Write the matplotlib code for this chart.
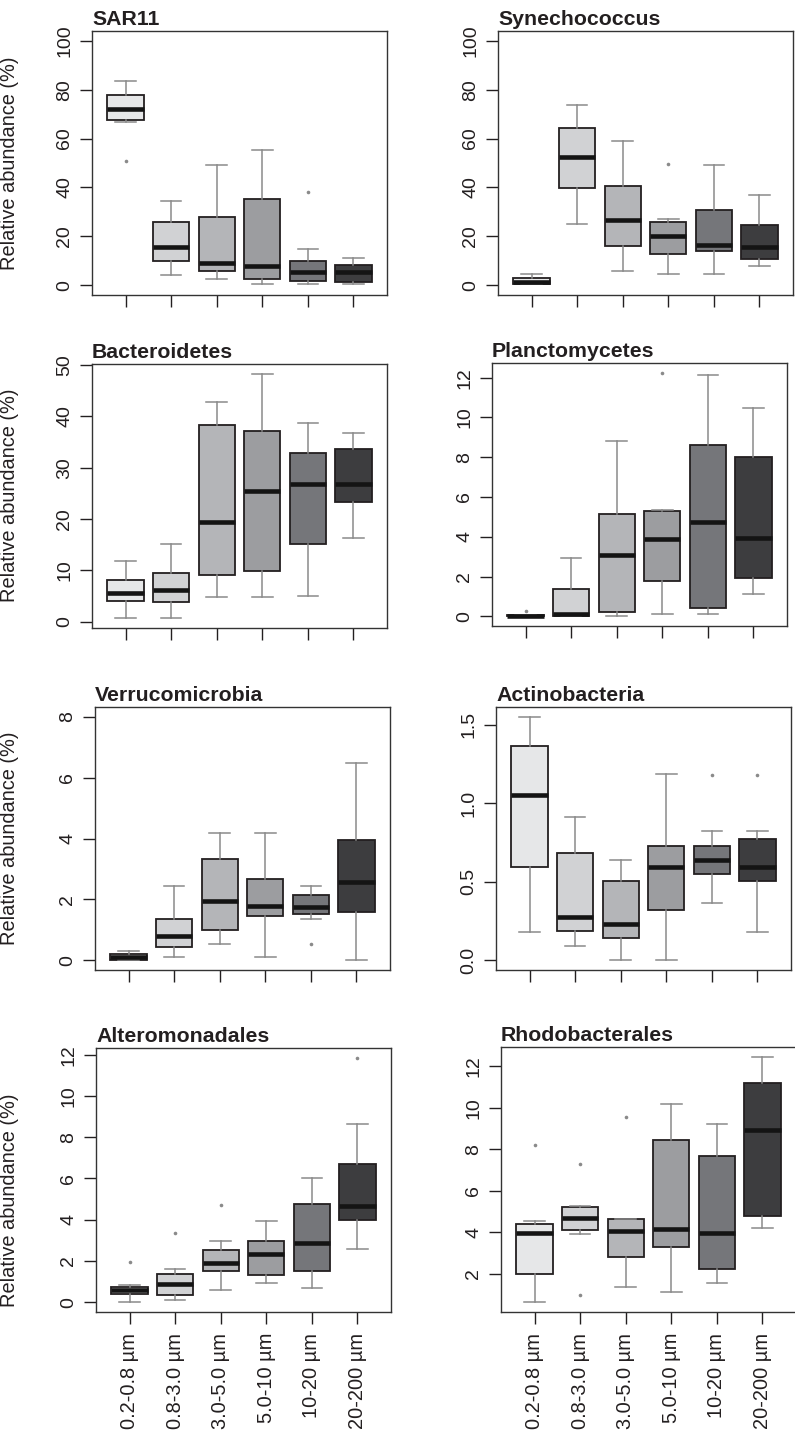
import matplotlib
matplotlib.use("Agg")
import matplotlib.pyplot as plt
from matplotlib import font_manager

# ---------------------------------------------------------------------------
# Data: five-number summaries per size fraction
# rows: lower whisker, Q1, median, Q3, upper whisker; columns follow SIZE_FRACTIONS
# ---------------------------------------------------------------------------
SIZE_FRACTIONS = ["0.2-0.8 µm", "0.8-3.0 µm", "3.0-5.0 µm",
                  "5.0-10 µm", "10-20 µm", "20-200 µm"]

SAR11 = [
    [66.6, 4.1, 2.5, 0.7, 0.5, 0.4],
    [67.4, 9.9, 5.9, 2.7, 1.8, 1.4],
    [72.2, 15.7, 9.1, 7.8, 5.4, 5.4],
    [77.7, 25.9, 27.9, 35.4, 10.1, 8.4],
    [83.7, 34.5, 49.2, 55.3, 14.7, 11.2],
]
SAR11_OUT = [[50.8], [], [], [], [38.0], []]

SYNECHOCOCCUS = [
    [0.3, 24.9, 5.7, 4.6, 4.6, 7.8],
    [0.5, 39.8, 16.2, 12.8, 13.8, 10.8],
    [1.4, 52.5, 26.6, 20.2, 16.6, 15.5],
    [3.1, 64.2, 40.7, 25.9, 30.7, 24.5],
    [4.5, 73.8, 58.9, 27.0, 49.2, 36.8],
]
SYNECHOCOCCUS_OUT = [[], [], [], [49.7], [], []]

BACTEROIDETES = [
    [0.7, 0.7, 4.8, 4.9, 5.0, 16.4],
    [4.0, 3.9, 9.1, 9.8, 15.1, 23.4],
    [5.6, 6.1, 19.5, 25.4, 26.9, 26.8],
    [8.2, 9.5, 38.4, 37.2, 32.9, 33.6],
    [11.9, 15.1, 42.8, 48.3, 38.7, 36.8],
]
BACTEROIDETES_OUT = [[], [], [], [], [], []]

PLANCTOMYCETES = [
    [0.0, 0.03, 0.02, 0.10, 0.10, 1.10],
    [0.0, 0.03, 0.23, 1.78, 0.43, 1.93],
    [0.02, 0.13, 3.07, 3.89, 4.75, 3.92],
    [0.05, 1.38, 5.15, 5.28, 8.61, 7.99],
    [0.08, 2.92, 8.84, 5.37, 12.12, 10.47],
]
PLANCTOMYCETES_OUT = [[0.25], [], [], [12.25], [], []]

VERRUCOMICROBIA = [
    [0.0, 0.10, 0.55, 0.11, 1.37, 0.0],
    [0.02, 0.43, 1.01, 1.47, 1.51, 1.60],
    [0.11, 0.80, 1.94, 1.78, 1.75, 2.56],
    [0.19, 1.37, 3.32, 2.68, 2.13, 3.96],
    [0.29, 2.45, 4.19, 4.19, 2.45, 6.47],
]
VERRUCOMICROBIA_OUT = [[], [], [], [], [0.55], []]

ACTINOBACTERIA = [
    [0.182, 0.093, 0.0, 0.0, 0.366, 0.182],
    [0.594, 0.184, 0.139, 0.321, 0.547, 0.503],
    [1.050, 0.275, 0.230, 0.596, 0.638, 0.596],
    [1.365, 0.685, 0.503, 0.729, 0.729, 0.773],
    [1.551, 0.913, 0.638, 1.185, 0.822, 0.822],
]
ACTINOBACTERIA_OUT = [[], [], [], [], [1.183], [1.183]]

ALTEROMONADALES = [
    [0.0, 0.11, 0.57, 0.94, 0.68, 2.60],
    [0.38, 0.33, 1.53, 1.31, 1.50, 4.01],
    [0.57, 0.86, 1.88, 2.34, 2.88, 4.68],
    [0.76, 1.35, 2.55, 2.96, 4.76, 6.69],
    [0.84, 1.59, 2.98, 3.96, 6.00, 8.66],
]
ALTEROMONADALES_OUT = [[1.97], [3.36], [4.71], [], [], [11.85]]

RHODOBACTERALES = [
    [0.63, 3.90, 1.37, 1.10, 1.55, 4.18],
    [2.00, 4.10, 2.79, 3.27, 2.24, 4.77],
    [3.97, 4.69, 4.06, 4.15, 3.98, 8.94],
    [4.42, 5.23, 4.63, 8.45, 7.65, 11.18],
    [4.55, 5.27, 4.63, 10.19, 9.19, 12.45],
]
RHODOBACTERALES_OUT = [[8.18], [7.29, 1.0], [9.55], [], [], []]

TAXA = ["SAR11", "Synechococcus", "Bacteroidetes", "Planctomycetes",
        "Verrucomicrobia", "Actinobacteria", "Alteromonadales", "Rhodobacterales"]
SUMMARIES = [SAR11, SYNECHOCOCCUS, BACTEROIDETES, PLANCTOMYCETES,
             VERRUCOMICROBIA, ACTINOBACTERIA, ALTEROMONADALES, RHODOBACTERALES]
OUTLIERS = [SAR11_OUT, SYNECHOCOCCUS_OUT, BACTEROIDETES_OUT, PLANCTOMYCETES_OUT,
            VERRUCOMICROBIA_OUT, ACTINOBACTERIA_OUT, ALTEROMONADALES_OUT,
            RHODOBACTERALES_OUT]

# fixed value ranges for some panels (None = follow the data)
Y_RANGES = [(0, 100), (0, 100), None, None, (0, 8), None, None, None]
Y_TICKS = [
    [0, 20, 40, 60, 80, 100],
    [0, 20, 40, 60, 80, 100],
    [0, 10, 20, 30, 40, 50],
    [0, 2, 4, 6, 8, 10, 12],
    [0, 2, 4, 6, 8],
    [0.0, 0.5, 1.0, 1.5],
    [0, 2, 4, 6, 8, 10, 12],
    [2, 4, 6, 8, 10, 12],
]
Y_TICK_FMT = ["{:g}"] * 5 + ["{:.1f}"] + ["{:g}"] * 2

# ---------------------------------------------------------------------------
# Styling
# ---------------------------------------------------------------------------
FILLS = ["#e6e7e8", "#d1d2d4", "#b4b5b8", "#9c9da0", "#75767a", "#3d3d3f"]
INK = "#231f20"
WHISKER = "#8a8a8a"

available = {f.name for f in font_manager.fontManager.ttflist}
BASE_FONT = "Liberation Sans" if "Liberation Sans" in available else "DejaVu Sans"
if "Liberation Sans Narrow" in available:
    TITLE_FONT, TITLE_SIZE = "Liberation Sans Narrow", 17
else:
    TITLE_FONT, TITLE_SIZE = BASE_FONT, 15.3

plt.rcParams["font.family"] = [BASE_FONT, "DejaVu Sans"]

W, H = 795, 1433
fig = plt.figure(figsize=(W / 100, H / 100), dpi=100)
fig.patch.set_facecolor("white")

# panel frames in pixels: left, top, right, bottom
FRAMES = [
    (92, 31, 387, 295), (498, 31, 793, 295),
    (92, 364, 387, 628), (492, 363, 787, 626),
    (95, 707, 390, 970), (496, 707, 791, 970),
    (96, 1048, 391, 1312), (501, 1047, 796, 1312),
]
YLABEL_CENTER = [163, None, 495, None, 838, None, 1200, None]

for i, (name, summ, outs) in enumerate(zip(TAXA, SUMMARIES, OUTLIERS)):
    left, top, right, bottom = FRAMES[i]
    ax = fig.add_axes([left / W, 1 - bottom / H, (right - left) / W, (bottom - top) / H])

    lo, q1, med, q3, hi = summ
    stats = [dict(whislo=lo[k], q1=q1[k], med=med[k], q3=q3[k], whishi=hi[k],
                  fliers=outs[k]) for k in range(len(SIZE_FRACTIONS))]
    positions = list(range(1, len(SIZE_FRACTIONS) + 1))
    bp = ax.bxp(stats, positions=positions, widths=0.8, capwidths=0.45,
                patch_artist=True, showfliers=True,
                boxprops=dict(edgecolor=INK, linewidth=1.3),
                medianprops=dict(color="#141414", linewidth=3.3, solid_capstyle="butt"),
                whiskerprops=dict(color=WHISKER, linewidth=1.1),
                capprops=dict(color=WHISKER, linewidth=1.1),
                flierprops=dict(marker="o", markersize=2.6, markerfacecolor=WHISKER,
                                markeredgecolor="none"))
    for patch, c in zip(bp["boxes"], FILLS):
        patch.set_facecolor(c)

    # value range with 4% padding on each side
    if Y_RANGES[i] is not None:
        ymin, ymax = Y_RANGES[i]
    else:
        values = lo + hi + [v for o in outs for v in o]
        ymin, ymax = min(values), max(values)
    pad = 0.04 * (ymax - ymin)
    ax.set_ylim(ymin - pad, ymax + pad)
    ax.set_xlim(0.26, len(SIZE_FRACTIONS) + 0.74)

    ax.set_yticks(Y_TICKS[i])
    ax.set_yticklabels([Y_TICK_FMT[i].format(t) for t in Y_TICKS[i]])
    ax.set_xticks(positions)
    if i >= 6:
        ax.set_xticklabels(SIZE_FRACTIONS, rotation=90, fontsize=14.4, color=INK)
    else:
        ax.set_xticklabels([])

    ax.tick_params(axis="both", direction="out", length=8.6, width=1.0, color=INK)
    ax.tick_params(axis="y", labelsize=14, labelcolor=INK, pad=5, labelrotation=90)
    ax.tick_params(axis="x", pad=6.5)
    for lbl in ax.get_yticklabels():
        lbl.set_va("center")

    for sp in ax.spines.values():
        sp.set_color("#333333")
        sp.set_linewidth(1.0)

    ax.annotate(name, xy=(0, 1), xycoords="axes fraction", xytext=(0, 4.5),
                textcoords="offset points", ha="left", va="baseline",
                fontsize=TITLE_SIZE, fontweight="bold", family=TITLE_FONT, color=INK)

    if YLABEL_CENTER[i] is not None:
        ax.set_ylabel("Relative abundance (%)", fontsize=14.4, color=INK)
        ax.yaxis.set_label_coords((19 - left) / (right - left),
                                  (bottom - YLABEL_CENTER[i]) / (bottom - top))

fig.savefig("out.png", dpi=100, facecolor="white")
